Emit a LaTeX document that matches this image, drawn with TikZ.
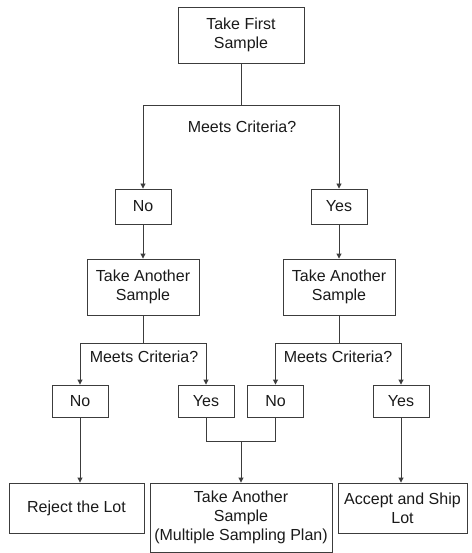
\documentclass[tikz,border=0pt]{standalone}
\usepackage{fontspec}
\setmainfont{Liberation Sans}
\usetikzlibrary{arrows.meta}
\definecolor{linegray}{HTML}{3C3C3C}
\definecolor{textgray}{HTML}{1A1A1A}
\begin{document}
\begin{tikzpicture}[x=1pt,y=-1pt,
  box/.style={draw=linegray, line width=0.9pt, fill=white, inner sep=0pt,
    align=center, text=textgray, font=\fontsize{16}{19}\selectfont},
  lbl/.style={inner sep=0pt, text=textgray, font=\fontsize{16}{19}\selectfont},
  link/.style={draw=linegray, line width=0.9pt},
  arr/.style={link, -{Triangle[length=5pt,width=5pt]}}]
\useasboundingbox[fill=white] (0,0) rectangle (471,553);

% first stage
\node[box, minimum width=126pt, minimum height=56pt] (first) at (241,35) {Take First\\Sample};
\node[lbl] (q1) at (242,127) {Meets Criteria?};
\node[box, minimum width=56pt, minimum height=35pt] (no1) at (143,206.5) {No};
\node[box, minimum width=56pt, minimum height=35pt] (yes1) at (339,206.5) {Yes};

% second samples
\node[box, minimum width=112pt, minimum height=56pt] (tasL) at (143,287) {Take Another\\Sample};
\node[box, minimum width=112pt, minimum height=56pt] (tasR) at (339,287) {Take Another\\Sample};
\node[lbl] (q2) at (144,357) {Meets Criteria?};
\node[lbl] (q3) at (338,357) {Meets Criteria?};

% second-stage outcomes
\node[box, minimum width=56pt, minimum height=32pt] (noL) at (80,401) {No};
\node[box, minimum width=56pt, minimum height=32pt] (yesM) at (206,401) {Yes};
\node[box, minimum width=56pt, minimum height=32pt] (noM) at (275.5,401) {No};
\node[box, minimum width=56pt, minimum height=32pt] (yesR) at (401,401) {Yes};

% final decisions
\node[box, minimum width=135pt, minimum height=50pt] (reject) at (76.5,508) {Reject the Lot};
\node[box, minimum width=182pt, minimum height=69pt] (multi) at (241,517.5) {Take Another\\Sample\\(Multiple Sampling Plan)};
\node[box, minimum width=129pt, minimum height=50pt] (accept) at (402.5,508) {Accept and Ship\\Lot};

% junction points
\coordinate (j1) at (241,105);
\coordinate (j2) at (143,343);
\coordinate (j3) at (339,343);
\coordinate (j4) at (241,441);

% connectors
\draw[link] (first.south) -- (j1);
\draw[arr] (j1) -| (no1.north);
\draw[arr] (j1) -| (yes1.north);
\draw[arr] (no1.south) -- (tasL.north);
\draw[arr] (yes1.south) -- (tasR.north);

\draw[link] (tasL.south) -- (j2);
\draw[arr] (j2) -| (noL.north);
\draw[arr] (j2) -| (yesM.north);
\draw[link] (tasR.south) -- (j3);
\draw[arr] (j3) -| (noM.north);
\draw[arr] (j3) -| (yesR.north);

\draw[link] (yesM.south) |- (j4);
\draw[link] (noM.south) |- (j4);
\draw[arr] (j4) -- (multi.north);
\draw[arr] (noL.south) -- (noL.south |- reject.north);
\draw[arr] (yesR.south) -- (yesR.south |- accept.north);
\end{tikzpicture}
\end{document}
